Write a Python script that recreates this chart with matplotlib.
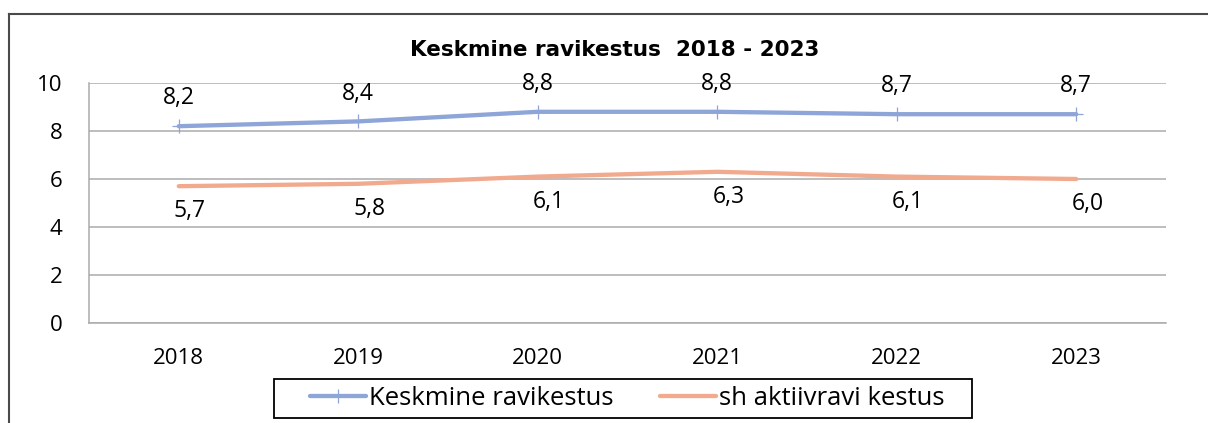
import matplotlib
matplotlib.use("Agg")
import matplotlib.pyplot as plt
from matplotlib.lines import Line2D
from matplotlib.patches import Rectangle

years = ["2018", "2019", "2020", "2021", "2022", "2023"]
keskmine = [8.2, 8.4, 8.8, 8.8, 8.7, 8.7]
aktiiv = [5.7, 5.8, 6.1, 6.3, 6.1, 6.0]
series_names = ["Keskmine ravikestus", "sh aktiivravi kestus"]
title = "Keskmine ravikestus  2018 - 2023"
yticks = [0, 2, 4, 6, 8, 10]

FONT = ["Open Sans", "DejaVu Sans"]
plt.rcParams["font.family"] = FONT

W, H = 1208, 423
fig = plt.figure(figsize=(W / 100, H / 100), dpi=100)
fig.patch.set_facecolor("white")

ax = fig.add_axes([89 / W, 1 - 323 / H, (1166 - 89) / W, (323 - 83) / H])

blue = "#8EA5D8"
orange = "#F2AA8E"
x = list(range(len(years)))

ax.plot(x, keskmine, color=blue, lw=3.1, marker="+", ms=10, mew=0.9,
        solid_capstyle="round", label=series_names[0], zorder=3)
ax.plot(x, aktiiv, color=orange, lw=3.1, solid_capstyle="round",
        label=series_names[1], zorder=3)

for xi, v in zip(x, keskmine):
    ax.annotate(f"{v:.1f}".replace(".", ","), (xi, v), xytext=(0, 20),
                textcoords="offset points", ha="center", va="center",
                fontsize=16.5, color="#000000")
for xi, v in zip(x, aktiiv):
    ax.annotate(f"{v:.1f}".replace(".", ","), (xi, v), xytext=(8, -18),
                textcoords="offset points", ha="center", va="center",
                fontsize=16.5, color="#000000")

ax.set_xlim(-0.5, len(years) - 0.5)
ax.set_ylim(0, 10)
ax.set_yticks(yticks)
ax.set_yticklabels([str(t) for t in yticks])
ax.set_xticks(x)
ax.set_xticklabels(years)
ax.tick_params(axis="both", length=0, labelsize=16, colors="#000000")
ax.tick_params(axis="y", pad=19)
ax.tick_params(axis="x", pad=18)
ax.grid(axis="y", color="#ABABAB", lw=1.1)
ax.set_axisbelow(True)
for s in ["top", "right"]:
    ax.spines[s].set_visible(False)
for s in ["left", "bottom"]:
    ax.spines[s].set_color("#ABABAB")
    ax.spines[s].set_linewidth(1.1)

fig.text(615 / W, 1 - 50 / H, title, ha="center", va="center",
         fontsize=15.5, fontweight="bold", family=["DejaVu Sans"])

leg = fig.legend(loc="center", bbox_to_anchor=(627 / W, 1 - 398.5 / H), ncol=2,
                 fontsize=18.5, frameon=False, handlelength=2.2,
                 handletextpad=0.1, columnspacing=1.8, borderpad=0.15)

# legend box
fig.add_artist(Rectangle((274 / W, 1 - 418 / H), (972 - 274) / W, (418 - 379) / H,
                         transform=fig.transFigure, fill=False,
                         edgecolor="#000000", lw=1.3))

# outer chart border (top and left visible)
fig.add_artist(Line2D([9 / W, 1.0], [1 - 14 / H, 1 - 14 / H], transform=fig.transFigure,
                      color="#4A4A4A", lw=1.5))
fig.add_artist(Line2D([9 / W, 9 / W], [1 - 14 / H, 0.0], transform=fig.transFigure,
                      color="#4A4A4A", lw=1.5))

fig.savefig("out.png", dpi=100)
